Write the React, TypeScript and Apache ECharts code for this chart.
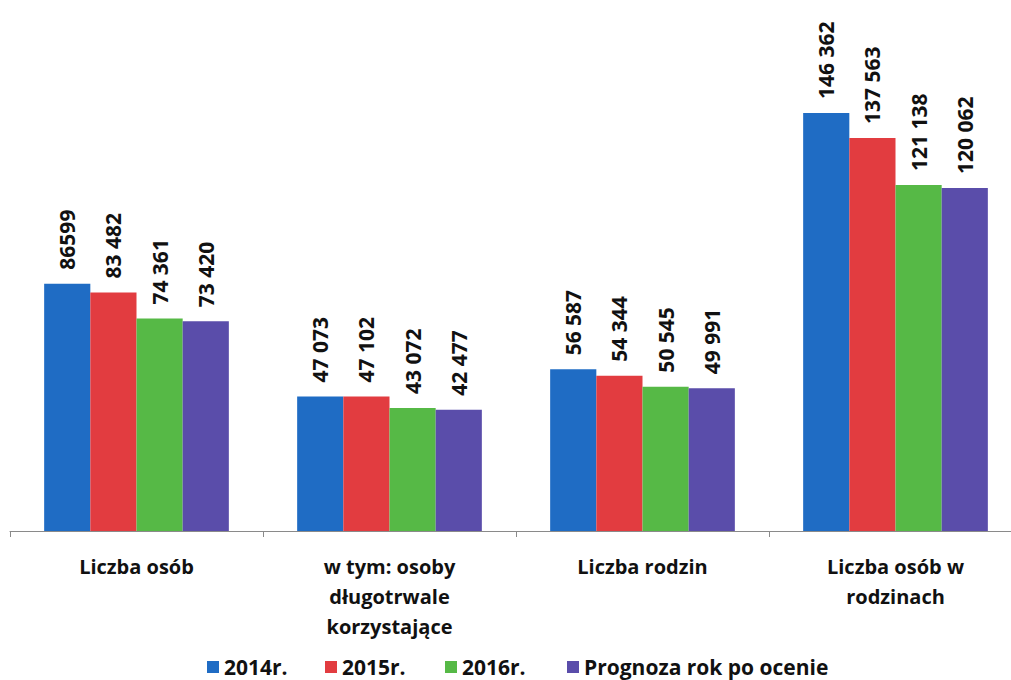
import React, { useEffect, useRef } from "react";
import * as echarts from "echarts";

const categories = [
  "Liczba osób",
  "w tym: osoby\ndługotrwale\nkorzystające",
  "Liczba rodzin",
  "Liczba osób w\nrodzinach",
];
const seriesNames = ["2014r.", "2015r.", "2016r.", "Prognoza rok po ocenie"];
const values2014 = [86599, 47073, 56587, 146362];
const values2015 = [83482, 47102, 54344, 137563];
const values2016 = [74361, 43072, 50545, 121138];
const valuesPrognoza = [73420, 42477, 49991, 120062];
const labels2014 = ["86599", "47 073", "56 587", "146 362"];
const labels2015 = ["83 482", "47 102", "54 344", "137 563"];
const labels2016 = ["74 361", "43 072", "50 545", "121 138"];
const labelsPrognoza = ["73 420", "42 477", "49 991", "120 062"];
const colors = ["#1f6cc4", "#e23c40", "#56b946", "#5a4daa"];
const legendLefts = [207, 325, 445, 567];

const FONT = "'Open Sans', 'Liberation Sans', sans-serif";

export default function App() {
  const ref = useRef<HTMLDivElement>(null);
  useEffect(() => {
    if (!ref.current) return;
    const chart = echarts.init(ref.current, null, { renderer: "svg" });
    const allValues = [values2014, values2015, values2016, valuesPrognoza];
    const allLabels = [labels2014, labels2015, labels2016, labelsPrognoza];
    chart.setOption({
      animation: false,
      backgroundColor: "#ffffff",
      grid: { left: 10, right: 1, top: 74, bottom: 149, containLabel: false },
      legend: seriesNames.map((name, i) => ({
        top: 656,
        left: legendLefts[i],
        padding: 0,
        itemWidth: 12,
        itemHeight: 12,
        itemGap: 0,
        icon: "rect",
        textStyle: {
          fontFamily: FONT,
          fontWeight: "bold",
          fontSize: 21,
          lineHeight: 22,
          color: "#111",
        },
        data: [name],
      })),
      xAxis: {
        type: "category",
        data: categories,
        axisLine: { lineStyle: { color: "#8a8a8a", width: 1 } },
        axisTick: { show: true, length: 6, lineStyle: { color: "#8a8a8a" } },
        axisLabel: {
          interval: 0,
          margin: 20,
          fontFamily: FONT,
          fontWeight: "bold",
          fontSize: 20,
          lineHeight: 30,
          color: "#111",
        },
      },
      yAxis: {
        type: "value",
        min: 0,
        max: 160000,
        show: false,
        splitLine: { show: false },
      },
      series: seriesNames.map((name, i) => ({
        name,
        type: "bar",
        barGap: "0%",
        barCategoryGap: "27%",
        itemStyle: { color: colors[i] },
        label: {
          show: true,
          position: "top",
          rotate: 90,
          align: "left",
          verticalAlign: "middle",
          distance: 14,
          fontFamily: FONT,
          fontWeight: "bold",
          fontSize: 21,
          color: "#111",
          formatter: (p: any) => allLabels[i][p.dataIndex],
        },
        data: allValues[i],
      })),
    });
    return () => chart.dispose();
  }, []);
  return (
    <div
      style={{
        position: "absolute",
        left: 0,
        top: 0,
        width: 1011,
        height: 680,
        overflow: "hidden",
      }}
    >
      <div ref={ref} style={{ width: 1023, height: 680 }} />
    </div>
  );
}
